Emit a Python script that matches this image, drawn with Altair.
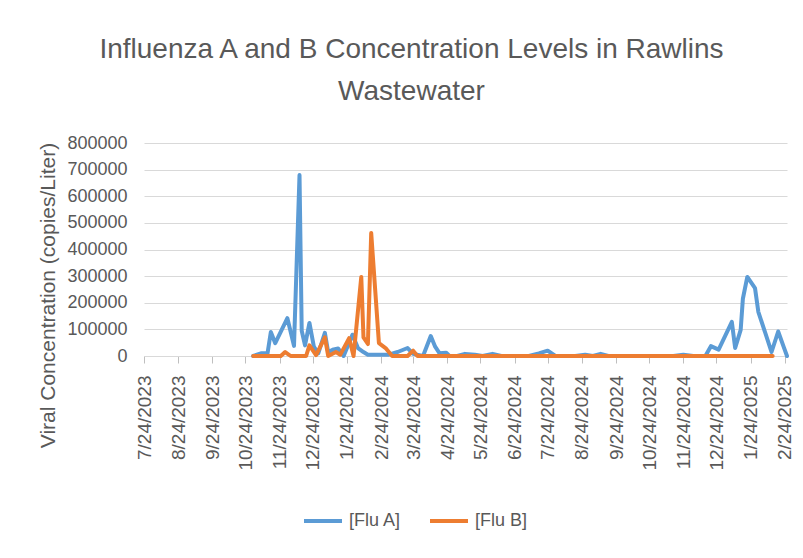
import altair as alt
import pandas as pd

# ---------------- data ----------------
flu_a_dates = [
    "2023-10-31", "2023-11-07", "2023-11-13", "2023-11-16", "2023-11-20",
    "2023-12-01", "2023-12-07", "2023-12-12", "2023-12-14", "2023-12-17",
    "2023-12-21", "2023-12-25", "2023-12-29", "2024-01-04", "2024-01-07",
    "2024-01-12", "2024-01-16", "2024-01-21", "2024-01-29", "2024-02-03",
    "2024-02-08", "2024-02-12", "2024-02-20", "2024-03-02", "2024-03-10",
    "2024-03-19", "2024-03-24", "2024-04-02", "2024-04-09", "2024-04-13",
    "2024-04-17", "2024-04-23", "2024-04-26", "2024-05-03", "2024-05-10",
    "2024-05-19", "2024-05-26", "2024-06-04", "2024-06-12", "2024-06-20",
    "2024-06-28", "2024-07-07", "2024-07-16", "2024-07-24", "2024-07-31",
    "2024-08-08", "2024-08-18", "2024-08-27", "2024-09-03", "2024-09-10",
    "2024-09-17", "2024-09-26", "2024-10-05", "2024-10-15", "2024-10-25",
    "2024-11-05", "2024-11-15", "2024-11-24", "2024-12-03", "2024-12-14",
    "2024-12-19", "2024-12-26", "2025-01-07", "2025-01-10", "2025-01-15",
    "2025-01-17", "2025-01-21", "2025-01-28", "2025-01-31", "2025-02-12",
    "2025-02-18", "2025-02-23", "2025-02-26",
]
flu_a_values = [
    0, 10000, 10000, 90000, 48000,
    142000, 38000, 680000, 95000, 40000,
    124000, 35000, 10000, 87000, 15000,
    25000, 28000, 0, 80000, 30000,
    15000, 5000, 5000, 5000, 15000,
    30000, 8000, 0, 75000, 35000,
    10000, 12000, 0, 0, 8000,
    5000, 0, 8000, 0, 0,
    0, 0, 10000, 20000, 0,
    0, 0, 5000, 0, 8000,
    0, 0, 0, 0, 0,
    0, 0, 5000, 0, 0,
    37000, 24000, 128000, 30000, 98000,
    215000, 297000, 255000, 166000, 15000,
    92000, 34000, 0,
]

flu_b_dates = [
    "2023-10-31", "2023-11-07", "2023-11-13", "2023-11-20", "2023-11-25",
    "2023-11-29", "2023-12-04", "2023-12-12", "2023-12-18", "2023-12-21",
    "2023-12-27", "2024-01-04", "2024-01-07", "2024-01-14", "2024-01-18",
    "2024-01-26", "2024-01-30", "2024-02-06", "2024-02-08", "2024-02-12",
    "2024-02-15", "2024-02-22", "2024-02-28", "2024-03-05", "2024-03-12",
    "2024-03-19", "2024-03-24", "2024-03-28", "2024-04-09", "2024-05-10",
    "2024-06-04", "2024-07-07", "2024-08-08", "2024-09-10", "2024-10-15",
    "2024-11-24", "2024-12-19", "2025-01-21", "2025-02-13",
]
flu_b_values = [
    0, 0, 0, 0, 0,
    15000, 0, 0, 0, 40000,
    3000, 70000, 0, 15000, 5000,
    67000, 0, 297000, 70000, 45000,
    462000, 48000, 30000, 0, 0,
    0, 20000, 0, 0, 0,
    0, 0, 0, 0, 0,
    0, 0, 0, 0,
]

series_names = ["[Flu A]", "[Flu B]"]
series_colors = ["#5B9BD5", "#ED7D31"]

tick_labels = [
    "7/24/2023", "8/24/2023", "9/24/2023", "10/24/2023", "11/24/2023",
    "12/24/2023", "1/24/2024", "2/24/2024", "3/24/2024", "4/24/2024",
    "5/24/2024", "6/24/2024", "7/24/2024", "8/24/2024", "9/24/2024",
    "10/24/2024", "11/24/2024", "12/24/2024", "1/24/2025", "2/24/2025",
]
y_ticks = [0, 100000, 200000, 300000, 400000, 500000, 600000, 700000, 800000]

title_lines = ["Influenza A and B Concentration Levels in Rawlins", "Wastewater"]
y_title = "Viral Concentration (copies/Liter)"

# ---------------- build table ----------------
df = pd.concat([
    pd.DataFrame({"date": [d + "T00:00:00" for d in flu_a_dates],
                  "value": flu_a_values, "series": series_names[0]}),
    pd.DataFrame({"date": [d + "T00:00:00" for d in flu_b_dates],
                  "value": flu_b_values, "series": series_names[1]}),
], ignore_index=True)


def to_dt(lbl):
    m, d, y = (int(p) for p in lbl.split("/"))
    return alt.DateTime(year=y, month=m, date=d)


tick_values = [to_dt(t) for t in tick_labels]

FONT = "Liberation Sans"
GREY = "#595959"
GRID = "#D9D9D9"

chart = (
    alt.Chart(df)
    .mark_line(strokeWidth=4, strokeJoin="round", strokeCap="round")
    .encode(
        x=alt.X(
            "date:T",
            scale=alt.Scale(domain=[alt.DateTime(year=2023, month=7, date=24),
                                    alt.DateTime(year=2025, month=2, date=26)],
                            nice=False),
            axis=alt.Axis(
                values=tick_values,
                format="%-m/%-d/%Y",
                labelAngle=-90,
                labelFontSize=19,
                labelFont=FONT,
                labelColor=GREY,
                labelPadding=12,
                labelOverlap=False,
                labelFlush=False,
                tickSize=7,
                tickColor="#BFBFBF",
                domainColor=GRID,
                domainWidth=1,
                grid=False,
                title=None,
            ),
        ),
        y=alt.Y(
            "value:Q",
            scale=alt.Scale(domain=[0, 800000], nice=False),
            axis=alt.Axis(
                values=y_ticks,
                format="d",
                labelFontSize=18,
                labelFont=FONT,
                labelColor=GREY,
                labelPadding=17,
                ticks=False,
                domain=False,
                grid=True,
                gridColor=GRID,
                gridWidth=1,
                title=y_title,
                titleFont=FONT,
                titleFontSize=21,
                titleFontWeight="normal",
                titleColor=GREY,
                titleAngle=-90,
                titleAlign="center",
                titleBaseline="middle",
                titleX=-96,
                titleY=152,
            ),
        ),
        color=alt.Color(
            "series:N",
            scale=alt.Scale(domain=series_names, range=series_colors),
            legend=alt.Legend(
                title=None,
                orient="none",
                direction="horizontal",
                legendX=158,
                legendY=357,
                symbolType="stroke",
                symbolSize=1444,
                symbolStrokeWidth=4,
                labelFont=FONT,
                labelFontSize=18,
                labelColor=GREY,
                labelOffset=5,
                columnPadding=20,
            ),
        ),
        order=alt.Order("date:T"),
    )
    .properties(
        width=643,
        height=213,
        autosize=alt.AutoSizeParams(type="none"),
        padding={"left": 136, "top": 135, "right": 8, "bottom": 192},
        title=alt.TitleParams(
            text=title_lines,
            font=FONT,
            fontSize=28,
            fontWeight="normal",
            color=GREY,
            lineHeight=42,
            anchor="middle",
            dx=-54,
            offset=28,
        ),
    )
    .configure_view(stroke=None)
)

chart.save("out.html", embed_options={"renderer": "svg", "actions": False})
